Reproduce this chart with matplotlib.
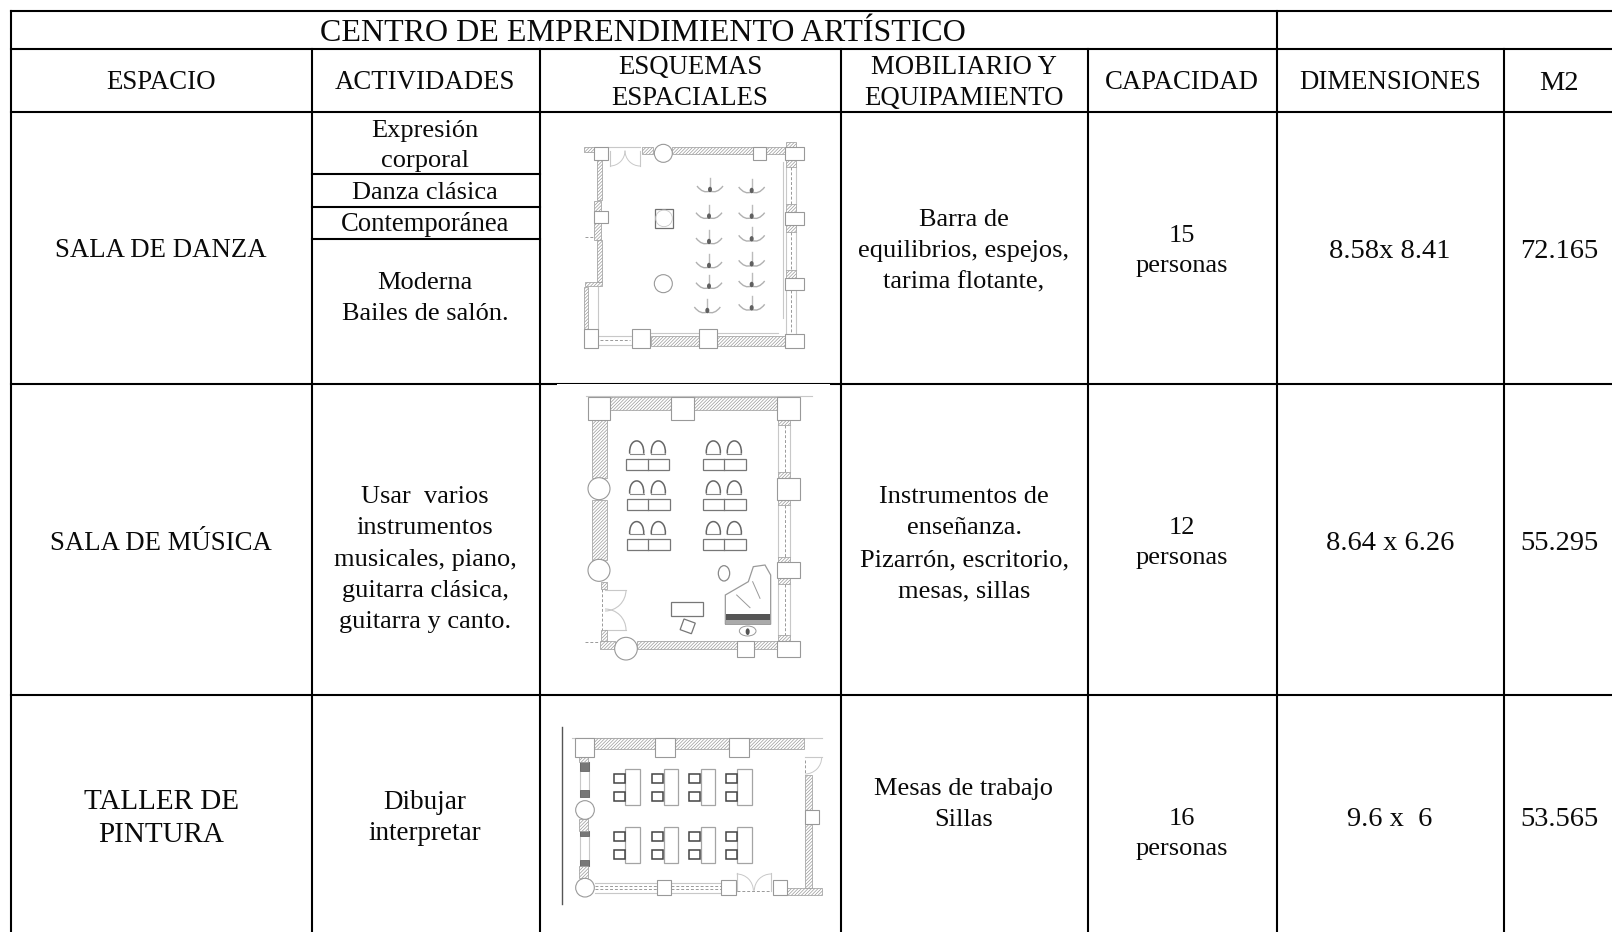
import matplotlib
matplotlib.use("Agg")
import matplotlib.pyplot as plt
from matplotlib.patches import Rectangle, Circle, Arc, PathPatch, Ellipse
from matplotlib.path import Path

plt.rcParams['font.family'] = ['Liberation Serif', 'DejaVu Serif']
plt.rcParams['hatch.linewidth'] = 0.5

W, H = 1612, 932
GREY = '#999999'
LGREY = '#c8c8c8'

# table grid (pixels)
col_x = [10.5, 312, 539.5, 841, 1087.5, 1277, 1503.5]
row_y = [11, 49, 111.5, 384, 695, 932]
sub_rows = [174, 206.5, 238.5]

# text: (x, baseline, text, size)
title = [(642.5, 41, 'CENTRO DE EMPRENDIMIENTO ARTÍSTICO', 23)]
header = [(161, 89, 'ESPACIO', 19.4), (425, 89, 'ACTIVIDADES', 19.3), (690, 74, 'ESQUEMAS', 19.3),
          (690, 105, 'ESPACIALES', 19.3), (964, 74, 'MOBILIARIO Y', 19.3), (964, 105, 'EQUIPAMIENTO', 19.3),
          (1182, 89, 'CAPACIDAD', 19.3), (1390, 89, 'DIMENSIONES', 19.3), (1559, 90, 'M2', 20.5)]
row1 = [(161, 257, 'SALA DE DANZA', 19.3), (425, 137, 'Expresión', 19), (425, 167, 'corporal', 19),
        (425, 199, 'Danza clásica', 19), (425, 231, 'Contemporánea', 19.2), (425, 289, 'Moderna', 19),
        (425, 320, 'Bailes de salón.', 19), (964, 226, 'Barra de', 19), (964, 257, 'equilibrios, espejos,', 19),
        (964, 288, 'tarima flotante,', 19), (1182, 242, '15', 19), (1182, 272, 'personas', 19),
        (1390, 258, '8.58x 8.41', 20.5), (1559, 258, '72.165', 20.5)]
row2 = [(161, 550, 'SALA DE MÚSICA', 19.3), (425, 503, 'Usar  varios', 19), (425, 534, 'instrumentos', 19),
        (425, 566, 'musicales, piano,', 19), (425, 597, 'guitarra clásica,', 19), (425, 628, 'guitarra y canto.', 19),
        (964, 503, 'Instrumentos de', 19), (964, 534, 'enseñanza.', 19), (964, 566, 'Pizarrón, escritorio,', 19),
        (964, 597, 'mesas, sillas', 19), (1182, 534, '12', 19), (1182, 564, 'personas', 19),
        (1390, 550, '8.64 x 6.26', 20.5), (1559, 550, '55.295', 20.5)]
row3 = [(161, 809, 'TALLER DE', 21), (161, 842, 'PINTURA', 21), (425, 809, 'Dibujar', 19.5), (425, 840, 'interpretar', 19.5),
        (964, 795, 'Mesas de trabajo', 19), (964, 826, 'Sillas', 19), (1182, 825, '16', 19), (1182, 855, 'personas', 19),
        (1390, 826, '9.6 x  6', 20.5), (1559, 826, '53.565', 20.5)]

# plan 1, sala de danza, coordinates are 3x from origin
p1_origin = (530, 110)
p1_hatch = [(163, 112, 30, 13), (335, 112, 35, 20), (425, 112, 245, 20), (708, 112, 57, 20), (767, 97, 30, 15),
            (768, 150, 30, 22), (768, 283, 30, 24), (768, 346, 30, 20), (768, 481, 30, 22), (362, 677, 146, 30),
            (562, 677, 203, 30), (201, 150, 14, 120), (193, 272, 20, 30), (193, 340, 20, 50), (201, 390, 14, 125),
            (165, 515, 50, 14), (163, 530, 10, 128)]
p1_cols = [(193, 112, 40, 38), (670, 112, 38, 38), (765, 112, 56, 38), (193, 302, 40, 38), (765, 307, 56, 38),
           (765, 503, 56, 38), (307, 658, 54, 56), (508, 658, 54, 56), (765, 673, 56, 40), (163, 658, 40, 56)]
p1_circles = [(400, 130, 27), (400, 521, 27)]
p1_dancers = [(540, 237), (665, 240), (537, 317), (665, 317), (537, 393), (665, 385),
              (537, 465), (665, 460), (537, 527), (665, 522), (532, 600), (665, 592)]
p1_lines = [(235, 112, 330, 112), (240, 122, 240, 168), (330, 122, 330, 168), (768, 172, 768, 283), (797, 172, 797, 283),
            (768, 366, 768, 481), (797, 366, 797, 481), (797, 540, 797, 673), (768, 540, 768, 673), (758, 155, 758, 625),
            (205, 677, 307, 677), (205, 706, 307, 706), (203, 530, 203, 658), (362, 668, 745, 668)]
p1_dashed = [(783, 172, 783, 283), (783, 366, 783, 481), (783, 540, 783, 673), (210, 691, 300, 691), (165, 380, 200, 380)]

# plan 2, sala de musica
p2_origin = (540, 385)
p2_hatch = [(211, 37, 181, 38), (462, 37, 249, 38), (155, 105, 46, 175), (155, 345, 46, 180), (715, 105, 36, 16),
            (715, 262, 36, 16), (715, 346, 36, 14), (715, 515, 36, 15), (715, 580, 36, 18), (715, 750, 36, 18),
            (180, 768, 45, 24), (290, 768, 300, 24), (642, 768, 68, 24), (183, 590, 18, 22), (183, 735, 18, 33)]
p2_cols = [(143, 37, 68, 67), (392, 37, 70, 67), (711, 37, 68, 67), (711, 278, 68, 68), (711, 530, 68, 50),
           (711, 768, 68, 47), (591, 768, 50, 47)]
p2_circles = [(177, 311, 33), (177, 556, 33), (258, 791, 34)]
p2_desks = [(258, 223), (488, 223), (260, 343), (488, 343), (260, 463), (488, 463)]
p2_chairs = [(290, 188), (355, 188), (520, 188), (583, 188), (290, 308), (355, 308), (520, 308), (583, 308),
             (290, 430), (355, 430), (520, 430), (583, 430)]
p2_lines = [(138, 33, 815, 33), (715, 120, 715, 262), (751, 120, 751, 262), (715, 360, 715, 515), (751, 360, 751, 515),
            (715, 598, 715, 750), (751, 598, 751, 750), (233, 72, 372, 72), (492, 72, 680, 72), (195, 615, 258, 615),
            (195, 735, 258, 735)]
p2_dashed = [(735, 120, 735, 262), (735, 360, 735, 515), (735, 598, 735, 750), (233, 62, 372, 62), (492, 62, 680, 62),
             (187, 612, 187, 735), (135, 770, 178, 770)]
p2_piano = [(556, 718), (556, 630), (625, 590), (640, 545), (675, 540), (692, 570), (692, 718), (556, 718)]

# plan 3, taller de pintura
p3_origin = (540, 700)
p3_hatch = [(163, 113, 181, 33), (404, 113, 164, 33), (628, 113, 165, 33), (118, 172, 26, 15), (118, 358, 26, 36),
            (118, 498, 26, 36), (795, 225, 22, 105), (795, 373, 22, 190), (740, 563, 105, 22)]
p3_cols = [(105, 113, 58, 58), (344, 113, 60, 58), (568, 113, 60, 58), (351, 541, 43, 43), (544, 541, 43, 43),
           (698, 541, 43, 43), (795, 330, 43, 43)]
p3_circles = [(135, 330, 28), (135, 563, 28)]
p3_desks = [(256, 208), (372, 208), (482, 208), (592, 208), (256, 382), (372, 382), (482, 382), (592, 382)]
p3_lines = [(95, 113, 845, 113), (165, 548, 351, 548), (165, 580, 351, 580), (394, 548, 544, 548), (394, 580, 544, 580),
            (120, 187, 120, 292), (146, 187, 146, 292), (120, 394, 120, 498), (146, 394, 146, 498),
            (590, 520, 590, 572), (693, 520, 693, 572), (795, 172, 845, 172)]
p3_dashed = [(165, 558, 351, 558), (165, 568, 351, 568), (394, 558, 544, 558), (394, 568, 544, 568), (590, 572, 693, 572),
             (180, 140, 330, 140), (420, 140, 555, 140), (645, 140, 778, 140), (795, 180, 795, 225)]
p3_bands = [(120, 187, 26, 25), (120, 270, 26, 22), (120, 394, 26, 14), (120, 480, 26, 18)]

fig = plt.figure(figsize=(W / 100, H / 100), dpi=100, facecolor='white')
ax = fig.add_axes([0, 0, 1, 1])
ax.set_xlim(0, W)
ax.set_ylim(H, 0)
ax.axis('off')


def draw_plan(origin, hatch, cols, circles, lines, dashed):
    ox, oy = origin
    for x, y, w, h in hatch:
        ax.add_patch(Rectangle((ox + x / 3, oy + y / 3), w / 3, h / 3, fc='white', ec=GREY, lw=0.5, hatch='//////////', zorder=2))
    for x, y, w, h in cols:
        ax.add_patch(Rectangle((ox + x / 3, oy + y / 3), w / 3, h / 3, fc='white', ec=GREY, lw=0.8, zorder=3))
    for x, y, r in circles:
        ax.add_patch(Circle((ox + x / 3, oy + y / 3), r / 3, fc='white', ec=GREY, lw=0.8, zorder=3))
    for x0, y0, x1, y1 in lines:
        ax.plot([ox + x0 / 3, ox + x1 / 3], [oy + y0 / 3, oy + y1 / 3], color=LGREY, lw=0.8, zorder=1)
    for x0, y0, x1, y1 in dashed:
        ax.plot([ox + x0 / 3, ox + x1 / 3], [oy + y0 / 3, oy + y1 / 3], color=GREY, lw=0.7, ls=(0, (3, 2)), zorder=1)


# plan 1
draw_plan(p1_origin, p1_hatch, p1_cols, p1_circles, p1_lines, p1_dashed)
ox, oy = p1_origin
ax.add_patch(Rectangle((ox + 374 / 3, oy + 297 / 3), 56 / 3, 56 / 3, fc='white', ec='#707070', lw=0.9, zorder=3))
ax.add_patch(Circle((ox + 402 / 3, oy + 325 / 3), 25 / 3, fc='none', ec=LGREY, lw=0.6, zorder=3))
ax.add_patch(Arc((ox + 240 / 3, oy + 122 / 3), 90 / 3, 92 / 3, theta1=0, theta2=90, ec=LGREY, lw=0.7))
ax.add_patch(Arc((ox + 330 / 3, oy + 122 / 3), 90 / 3, 92 / 3, theta1=90, theta2=180, ec=LGREY, lw=0.7))
for x, y in p1_dancers:
    x = ox + x / 3
    y = oy + y / 3
    verts = [(x - 13, y - 3), (x - 7, y + 5), (x, y + 2), (x + 7, y + 5), (x + 13, y - 3)]
    ax.add_patch(PathPatch(Path(verts, [Path.MOVETO, Path.CURVE3, Path.CURVE3, Path.CURVE3, Path.CURVE3]), fc='none', ec='#b0b0b0', lw=1.0))
    ax.plot([x, x], [y - 11, y], color='#bbbbbb', lw=1.0)
    ax.add_patch(Ellipse((x, y + 0.5), 4, 5.5, fc='#606060', ec='none', zorder=3))

# plan 2
draw_plan(p2_origin, p2_hatch, p2_cols, p2_circles, p2_lines, p2_dashed)
ox, oy = p2_origin
for x, y in p2_desks:
    ax.add_patch(Rectangle((ox + x / 3, oy + y / 3), 130 / 3, 33 / 3, fc='white', ec='#777777', lw=0.9))
    ax.plot([ox + (x + 65) / 3] * 2, [oy + y / 3, oy + (y + 33) / 3], color='#777777', lw=0.9)
for x, y in p2_chairs:
    x = ox + x / 3
    y = oy + y / 3
    verts = [(x - 7, y + 6), (x - 8, y - 11), (x + 8, y - 11), (x + 7, y + 6)]
    ax.add_patch(PathPatch(Path(verts, [Path.MOVETO, Path.CURVE4, Path.CURVE4, Path.CURVE4]), fc='none', ec='#666666', lw=1.1))
    ax.plot([x - 7, x + 7], [y + 6, y + 6], color='#888888', lw=0.8)
ax.add_patch(PathPatch(Path([(ox + a / 3, oy + b / 3) for a, b in p2_piano]), fc='white', ec='#9a9a9a', lw=0.9))
ax.add_patch(Rectangle((ox + 558 / 3, oy + 688 / 3), 133 / 3, 16 / 3, fc='#555555', ec='none'))
ax.add_patch(Rectangle((ox + 558 / 3, oy + 704 / 3), 133 / 3, 12 / 3, fc='#aaaaaa', ec='none'))
ax.plot([ox + 590 / 3, ox + 630 / 3], [oy + 630 / 3, oy + 668 / 3], color='#999999', lw=0.7)
ax.plot([ox + 638 / 3, ox + 660 / 3], [oy + 590 / 3, oy + 640 / 3], color='#999999', lw=0.7)
ax.add_patch(Ellipse((ox + 623 / 3, oy + 738 / 3), 50 / 3, 30 / 3, fc='white', ec='#999999', lw=0.7))
ax.add_patch(Ellipse((ox + 623 / 3, oy + 740 / 3), 12 / 3, 20 / 3, fc='#555555', ec='none'))
ax.add_patch(Rectangle((ox + 392 / 3, oy + 650 / 3), 98 / 3, 42 / 3, fc='white', ec='#777777', lw=0.9))
ax.add_patch(Rectangle((ox + 432 / 3, oy + 702 / 3), 36 / 3, 34 / 3, angle=20, fc='white', ec='#777777', lw=0.9))
ax.add_patch(Ellipse((ox + 552 / 3, oy + 565 / 3), 34 / 3, 46 / 3, fc='white', ec='#888888', lw=0.9))
ax.add_patch(Arc((ox + 195 / 3, oy + 615 / 3), 126 / 3, 126 / 3, theta1=0, theta2=90, ec=LGREY, lw=0.8))
ax.add_patch(Arc((ox + 195 / 3, oy + 735 / 3), 126 / 3, 126 / 3, theta1=270, theta2=360, ec=LGREY, lw=0.8))

# plan 3
draw_plan(p3_origin, p3_hatch, p3_cols, p3_circles, p3_lines, p3_dashed)
ox, oy = p3_origin
ax.plot([ox + 65 / 3] * 2, [oy + 82 / 3, oy + 613 / 3], color='#555555', lw=1.0)
for x, y, w, h in p3_bands:
    ax.add_patch(Rectangle((ox + x / 3, oy + y / 3), w / 3, h / 3, fc='#777777', ec='#555555', lw=0.5))
for x, y in p3_desks:
    ax.add_patch(Rectangle((ox + x / 3, oy + y / 3), 43 / 3, 108 / 3, fc='white', ec='#a4a4a4', lw=0.9))
    for dy in (14, 67):
        ax.add_patch(Rectangle((ox + (x - 35) / 3, oy + (y + dy) / 3), 33 / 3, 28 / 3, fc='white', ec='#444444', lw=1.1))
ax.add_patch(Arc((ox + 590 / 3, oy + 572 / 3), 100 / 3, 100 / 3, theta1=270, theta2=360, ec=LGREY, lw=0.7))
ax.add_patch(Arc((ox + 693 / 3, oy + 572 / 3), 100 / 3, 100 / 3, theta1=180, theta2=270, ec=LGREY, lw=0.7))
ax.add_patch(Arc((ox + 795 / 3, oy + 172 / 3), 100 / 3, 100 / 3, theta1=0, theta2=90, ec=LGREY, lw=0.7))

# table lines
LW = 1.5
ax.plot([col_x[0], W], [row_y[0], row_y[0]], color='black', lw=LW, zorder=5)
for y in row_y[1:5]:
    ax.plot([col_x[0], W], [y, y], color='black', lw=LW, zorder=5)
ax.plot([col_x[0], col_x[0]], [row_y[0], H], color='black', lw=LW, zorder=5)
for x in col_x[1:5] + col_x[6:]:
    ax.plot([x, x], [row_y[1], H], color='black', lw=LW, zorder=5)
ax.plot([col_x[5], col_x[5]], [row_y[0], H], color='black', lw=LW, zorder=5)
for y in sub_rows:
    ax.plot([col_x[1], col_x[2]], [y, y], color='black', lw=LW, zorder=5)
ax.add_patch(Rectangle((557, row_y[3]), 273, 2, fc='white', ec='none', zorder=6))

for group in [title, header, row1, row2, row3]:
    for x, y, s, size in group:
        ax.text(x, y, s, fontsize=size, ha='center', va='baseline', color='#0a0a0a', zorder=7)

fig.savefig('out.png', dpi=100)
